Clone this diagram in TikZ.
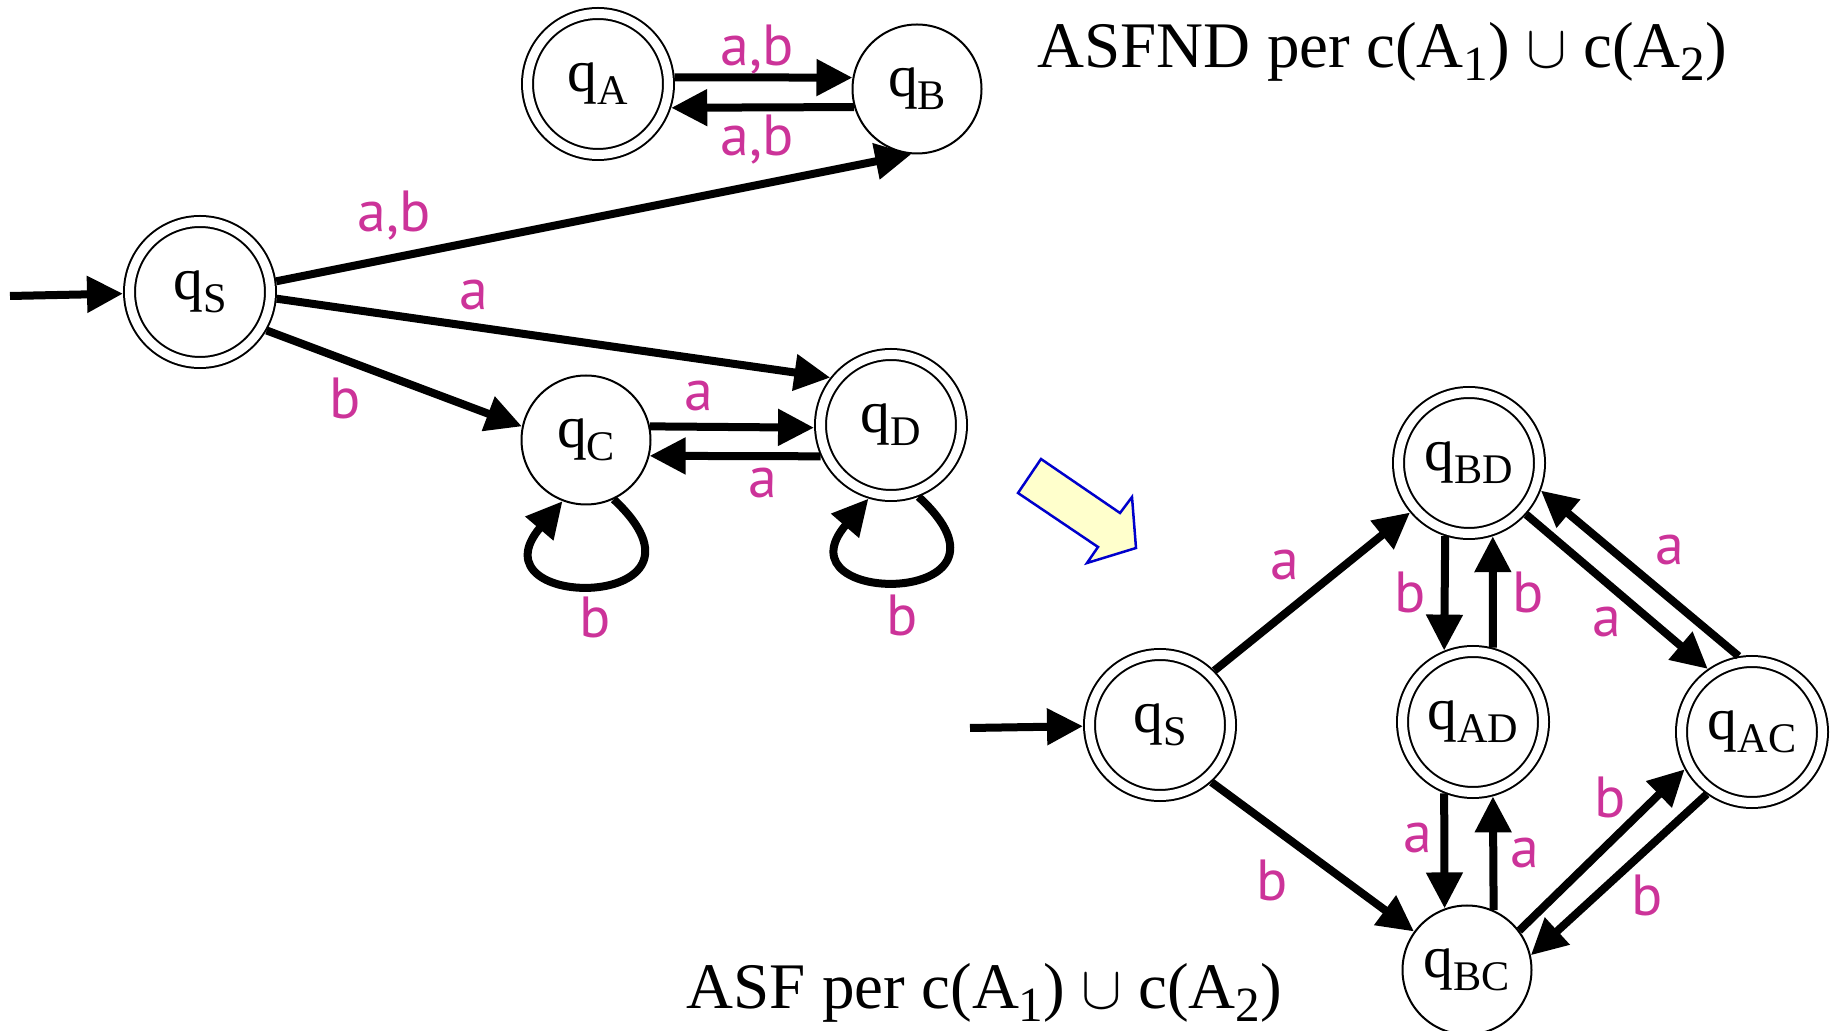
\documentclass[tikz,border=0pt]{standalone}
\usepackage{fontspec}
\setmainfont{Liberation Serif}
\newfontfamily\labfont{PT Sans}
\usetikzlibrary{arrows.meta}
\definecolor{labmag}{RGB}{204,51,153}
\definecolor{pale}{RGB}{255,255,204}
\definecolor{rim}{RGB}{0,0,204}
\newcommand{\qstate}[1]{q\raisebox{-0.22em}{\fontsize{12}{12}\selectfont #1}}
\newcommand{\tsub}[1]{\raisebox{-1.3mm}{\fontsize{14}{14}\selectfont #1}}

\begin{document}
\begin{tikzpicture}[
  state/.style={circle,draw=black,line width=0.2mm,minimum size=12.9mm,inner sep=0pt,font=\fontsize{17}{20}\selectfont},
  accept/.style={state,double,double distance=0.9mm,minimum size=14.1mm,outer sep=0.65mm},
  trans/.style={line width=0.8mm,-{Triangle[length=3.6mm,width=3.5mm]}},
  lab/.style={text=labmag,font=\labfont\fontsize{16.5}{18}\selectfont,inner sep=0pt},
  title/.style={font=\fontsize{18.5}{22}\selectfont,inner sep=0pt,anchor=base west}]
\useasboundingbox (0,0) rectangle (18.35,-10.31);
\node[accept] (nS) at (2.00,-2.92) {\qstate{S}};
\node[accept] (nA) at (5.98,-0.84) {\qstate{A}};
\node[state] (nB) at (9.17,-0.89) {\qstate{B}};
\node[state] (nC) at (5.86,-4.40) {\qstate{C}};
\node[accept] (nD) at (8.91,-4.25) {\qstate{D}};
\coordinate (inL) at (0.10,-2.96);
\draw[trans] (inL) -- (nS);
\draw[trans] (nS.8) -- (nB.265);
\draw[trans] (nS.-5) -- (nD.142);
\draw[trans] (nS.-30) -- (nC.168);
\draw[trans] (nA.5) -- (nB.170);
\draw[trans] (nB.-164) -- (nA.-18);
\draw[trans] (nC.12) -- (nD.182);
\draw[trans] (nD.204) -- (nC.-14);
\draw[trans] (nC.-65) .. controls +(1.2,-1.12) and +(-0.95,-1.12) .. (nC.-111);
\draw[trans] (nD.-69) .. controls +(1.2,-1.1) and +(-0.95,-1.1) .. (nD.-107);
\node[lab] (lAB1) at (7.57,-0.50) {a,b};
\node[lab] (lAB2) at (7.57,-1.40) {a,b};
\node[lab] (lSB) at (3.94,-2.16) {a,b};
\node[lab] (lSD) at (4.74,-2.95) {a};
\node[lab] (lSC) at (3.45,-3.98) {b};
\node[lab] (lCD) at (6.99,-3.96) {a};
\node[lab] (lDC) at (7.63,-4.83) {a};
\node[lab] (lCC) at (5.95,-6.17) {b};
\node[lab] (lDD) at (9.02,-6.15) {b};
\draw[rim,fill=pale,line width=0.25mm] (10.41,-4.59) -- (10.18,-4.93) -- (10.98,-5.47) -- (10.87,-5.63) -- (11.36,-5.48) -- (11.32,-4.97) -- (11.20,-5.13) -- cycle;
\node[accept] (dS) at (11.60,-7.25) {\qstate{S}};
\node[accept] (dBD) at (14.69,-4.63) {\qstate{BD}};
\node[accept] (dAD) at (14.73,-7.22) {\qstate{AD}};
\node[accept] (dAC) at (17.52,-7.32) {\qstate{AC}};
\node[state] (dBC) at (14.67,-9.70) {\qstate{BC}};
\coordinate (inR) at (9.70,-7.28);
\draw[trans] (inR) -- (dS);
\draw[trans] (dS.45) -- (dBD.220);
\draw[trans] (dS.-48) -- (dBC.144);
\draw[trans] (dBD.-108) -- (dAD.112);
\draw[trans] (dAD.75) -- (dBD.-72);
\draw[trans] (dAD.-112) -- (dBC.110);
\draw[trans] (dBC.66) -- (dAD.-75);
\draw[trans] (dBD.-42) -- (dAC.125);
\draw[trans] (dAC.100) -- (dBD.-21);
\draw[trans] (dBC.37) -- (dAC.209);
\draw[trans] (dAC.234) -- (dBC.13);
\node[lab] (lSBD) at (12.85,-5.65) {a};
\node[lab] (lSBC) at (12.72,-8.80) {b};
\node[lab] (lBDAD) at (14.10,-5.92) {b};
\node[lab] (lADBD) at (15.28,-5.92) {b};
\node[lab] (lADBC) at (14.18,-8.38) {a};
\node[lab] (lBCAD) at (15.25,-8.53) {a};
\node[lab] (lACBD) at (16.70,-5.50) {a};
\node[lab] (lBDAC) at (16.07,-6.22) {a};
\node[lab] (lBCAC) at (16.10,-7.97) {b};
\node[lab] (lACBC) at (16.47,-8.95) {b};
\node[title] (tND) at (10.37,-0.68) {ASFND per c(A\tsub{1}) $\cup$ c(A\tsub{2})};
\node[title] (tD) at (6.86,-10.09) {ASF per c(A\tsub{1}) $\cup$ c(A\tsub{2})};
\end{tikzpicture}
\end{document}
